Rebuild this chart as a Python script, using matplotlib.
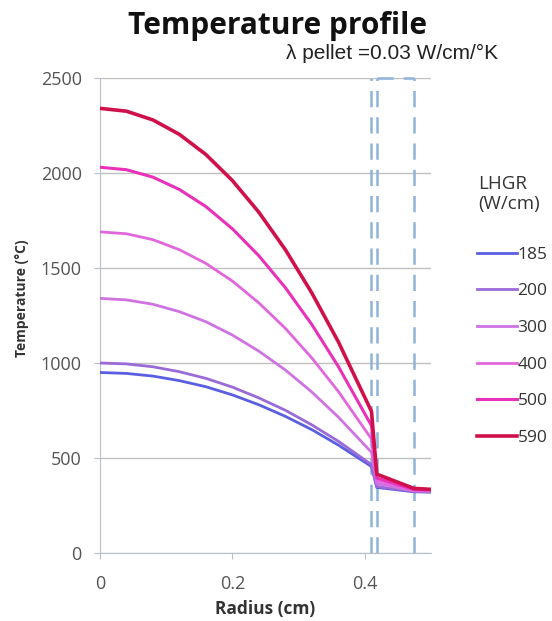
import numpy as np
import matplotlib.pyplot as plt
from matplotlib.lines import Line2D

# radial positions (cm): pellet, gap, cladding, coolant
radius = [0, 0.04, 0.08, 0.12, 0.16, 0.2, 0.24, 0.28, 0.32, 0.36, 0.41, 0.418, 0.474, 0.5]

lhgr = ["185", "200", "300", "400", "500", "590"]

t_185 = [950, 945, 931, 907, 875, 832, 780, 719, 649, 568, 455, 345, 322, 320]
t_200 = [1000, 995, 980, 954, 919, 873, 816, 751, 674, 588, 465, 350, 324, 322]
t_300 = [1340, 1332, 1309, 1270, 1217, 1147, 1062, 963, 847, 715, 530, 365, 327, 325]
t_400 = [1690, 1680, 1649, 1596, 1524, 1431, 1316, 1182, 1026, 850, 600, 380, 330, 328]
t_500 = [2030, 2017, 1978, 1913, 1823, 1706, 1564, 1396, 1202, 981, 670, 395, 334, 332]
t_590 = [2340, 2325, 2279, 2203, 2097, 1960, 1793, 1596, 1368, 1111, 745, 415, 340, 335]

# pellet surface, cladding inner, cladding outer
boundaries = [0.41, 0.418, 0.474]

temps = [t_185, t_200, t_300, t_400, t_500, t_590]
colors = ["#5a5ee0", "#9a6ad8", "#cf72e2", "#e266dc", "#e830b8", "#d0104a"]
widths = [2.0, 2.0, 2.0, 2.0, 2.2, 2.6]

plt.rcParams['font.family'] = ['Open Sans', 'DejaVu Sans']

fig = plt.figure(figsize=(5.52, 6.21), dpi=100)
ax = fig.add_axes([0.181, 0.1095, 0.6, 0.765])

ax.set_xlim(0, 0.5)
ax.set_ylim(0, 2500)
ax.set_yticks(np.arange(0, 2501, 500))
ax.set_xticks([0, 0.2, 0.4])
ax.set_xticklabels(["0", "0.2", "0.4"])
ax.yaxis.grid(True, color="#c0c0c0", linewidth=1.0)
ax.set_axisbelow(True)
for s in ["top", "right"]:
    ax.spines[s].set_visible(False)
for s in ["left", "bottom"]:
    ax.spines[s].set_color("#b8bfcc")
ax.tick_params(colors="#b8bfcc", labelcolor="#555555", labelsize=13, length=4)
ax.tick_params(axis="x", pad=12)
ax.tick_params(axis="y", pad=9)

dash = (0, (6.5, 4))
for b in boundaries:
    ax.axvline(b, color="#8fb3d9", linestyle=dash, linewidth=1.8, zorder=1)
ax.plot([boundaries[1], boundaries[2]], [2500, 2500], color="#8fb3d9",
        linestyle=dash, linewidth=1.8, clip_on=False, zorder=1)

handles = []
for t, c, w, lab in zip(temps, colors, widths, lhgr):
    ax.plot(radius, t, color=c, linewidth=w, zorder=3)
    handles.append(Line2D([], [], color=c, linewidth=w, label=lab))

ax.set_xlabel("Radius (cm)", fontsize=12.5, fontweight="bold", color="#333333", labelpad=5)
ax.set_ylabel("Temperature (°C)", fontsize=10, fontweight="bold", color="#333333")
ax.yaxis.set_label_coords(-0.215, 0.537)

fig.text(0.502, 0.9455, "Temperature profile", ha="center", va="baseline",
         fontsize=21.5, fontweight="bold", color="#111111")
fig.text(0.902, 0.905, "λ pellet =0.03 W/cm/°K", ha="right", va="baseline",
         fontsize=15, color="#222222", family=["Liberation Sans", "DejaVu Sans"])

fig.text(0.866, 0.6876, "LHGR\n(W/cm)", ha="left", va="center", fontsize=13.5,
         color="#333333", linespacing=1.2)
leg = fig.legend(handles=handles, loc="upper left", bbox_to_anchor=(0.851, 0.614),
                 frameon=False, fontsize=12.5, handlelength=2.3, handletextpad=0.05,
                 labelspacing=1.18, borderaxespad=0)
for txt in leg.get_texts():
    txt.set_color("#333333")

fig.savefig("out.png", dpi=100)
